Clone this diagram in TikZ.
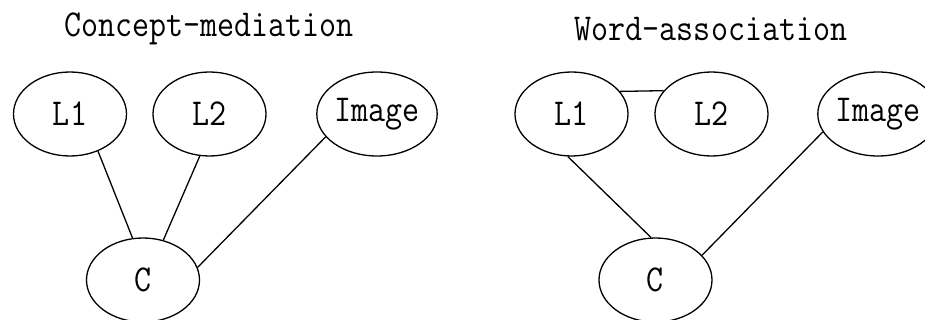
\documentclass[tikz,border=0pt]{standalone}
\usepackage{graphicx}
\usetikzlibrary{shapes.geometric}
\newcommand{\mytxt}[1]{\scalebox{0.87}[1]{\ttfamily\fontsize{38}{38}\selectfont #1}}
\begin{document}
\begin{tikzpicture}[x=1pt,y=-1pt,
  bub/.style={draw,ellipse,line width=1.3pt,inner sep=0pt,minimum width=113pt,minimum height=84pt},
  ttl/.style={inner sep=0pt},
  lnk/.style={line width=1.3pt}]
\clip (0,0) rectangle (925,320);
\fill[white] (0,0) rectangle (925,320);
% left
\node[ttl] (t1) at (209,29) {\mytxt{Concept-mediation}};
\node[bub] (a1) at (70,114) {\mytxt{L1}};
\node[bub] (a2) at (209.5,114) {\mytxt{L2}};
\node[bub] (a3) at (377,114) {\mytxt{Image}};
\node[bub] (ac) at (143,280) {\mytxt{C}};
\draw[lnk] (a1.-53) -- (ac.104);
\draw[lnk] (a2.-103) -- (ac.63);
\draw[lnk] (a3.204) -- (ac.13.5);
% right
\node[ttl] (t2) at (711,29) {\mytxt{Word-association}};
\node[bub] (b1) at (571.5,114) {\mytxt{L1}};
\node[bub] (b2) at (711.5,114) {\mytxt{L2}};
\node[bub] (b3) at (878,114) {\mytxt{Image}};
\node[bub] (bc) at (655.5,280) {\mytxt{C}};
\draw[lnk] (b1.25) -- (b2.154);
\draw[lnk] (b1.-95) -- (bc.96);
\draw[lnk] (b3.198) -- (bc.28);
\end{tikzpicture}
\end{document}
